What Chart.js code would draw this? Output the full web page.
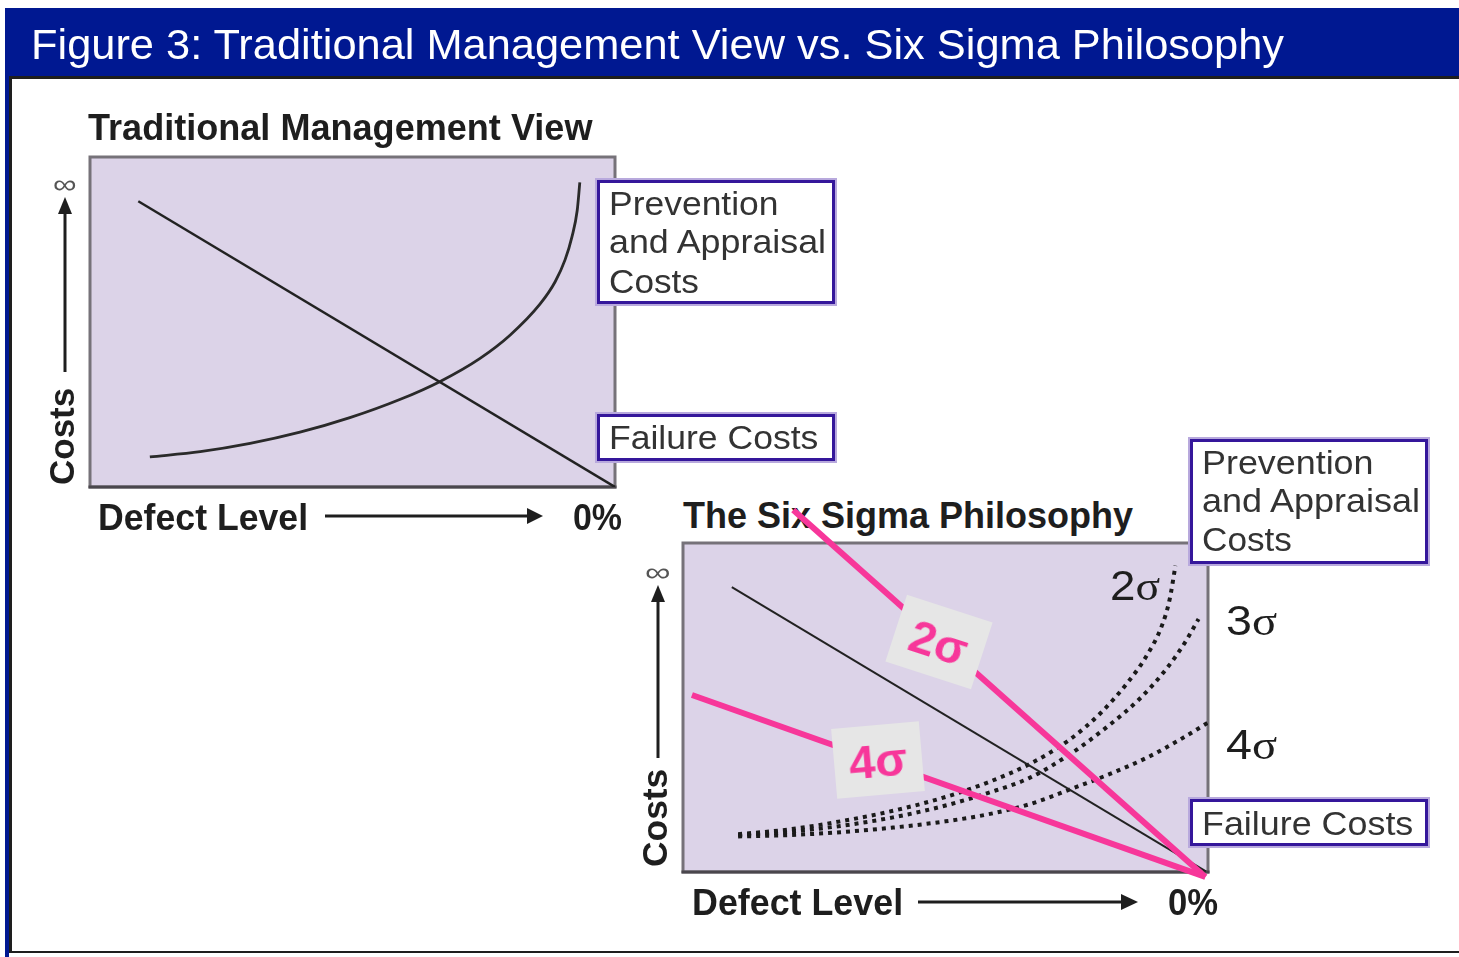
<!DOCTYPE html>
<html>
<head>
<meta charset="utf-8">
<script src="https://cdn.jsdelivr.net/npm/chart.js@4.4.1/dist/chart.umd.min.js"></script>
<style>
body{margin:0;width:1459px;height:957px;position:relative;overflow:hidden;background:#fff;font-family:"Liberation Sans",Arial,sans-serif;}
canvas{position:absolute;left:0;top:0;z-index:1;}
.abs{position:absolute;white-space:nowrap;z-index:2;}
#bar{position:absolute;left:5px;top:8px;width:1454px;height:68px;background:#001891;}
#strip{position:absolute;left:5px;top:8px;width:4px;height:949px;background:#001891;}
#panel{position:absolute;left:9px;top:76px;width:1450px;height:877px;border-left:3px solid #1e1e1e;border-top:3px solid #1e1e1e;border-bottom:2px solid #1e1e1e;box-sizing:border-box;}
.box{position:absolute;background:#fff;border:3px solid #35179b;box-shadow:0 0 0 2px #b8a9dd;box-sizing:border-box;z-index:2;}
.tag{position:absolute;background:#e6e6e6;z-index:3;display:flex;align-items:center;justify-content:center;
  color:#f7379a;font:bold 47px "Liberation Sans",Arial,sans-serif;line-height:1;}
.sig{font-family:"Liberation Serif","Times New Roman",serif;}
</style>
</head>
<body>
<div id="bar"></div>
<div id="strip"></div>
<div id="panel"></div>
<div class="box" style="left:597px;top:180px;width:238px;height:124px;"></div>
<div class="box" style="left:597px;top:414px;width:238px;height:47px;"></div>
<div class="box" style="left:1190px;top:439px;width:238px;height:125px;"></div>
<div class="box" style="left:1190px;top:799px;width:238px;height:47px;"></div>
<div class="tag" style="left:894px;top:607px;width:90px;height:70px;transform:rotate(18deg);">2σ</div>
<div class="tag" style="left:834px;top:725px;width:88px;height:70px;transform:rotate(-5deg);">4σ</div>
<canvas id="c1" width="1459" height="957"></canvas>
<canvas id="c2" width="1459" height="957"></canvas>
<script>
// traditional view (defect level axis runs towards 0% at the right)
const tradFailX = [9.2, 100];
const tradFailY = [86.6, 0];
const tradPrevX = [11.4, 21.0, 30.5, 40.0, 49.5, 59.0, 66.7, 74.3, 80.0, 85.7, 88.6, 90.5, 91.8, 92.8, 93.3];
const tradPrevY = [9.1, 10.7, 13.2, 16.6, 21.0, 26.5, 32.0, 39.0, 46.0, 55.4, 62.2, 68.9, 75.8, 83.8, 92.3];

// six sigma view
const ssFailX = [9.3, 99.6];
const ssFailY = [86.6, 0.2];
const sig2X = [10.5, 20, 30, 40, 50, 58, 66, 73.7, 79.6, 84.7, 88.3, 91.2, 92.7, 93.8];
const sig2Y = [11.5, 12.9, 15.4, 18.6, 22.8, 27.2, 32.8, 40.3, 48.4, 57.6, 65.7, 74.8, 82.9, 93.1];
const sig3X = [10.5, 20, 30, 40, 50, 58, 66, 73.7, 81.0, 86.9, 92.0, 95.6, 98.2];
const sig3Y = [11.2, 12.2, 14, 16.6, 20.2, 24, 28.6, 35.8, 44.4, 52.5, 61.6, 69.7, 76.9];
const sig4X = [10.5, 20, 30, 40, 50, 58, 66, 73.7, 81.0, 88.3, 94.2, 100];
const sig4Y = [10.8, 11.2, 12.1, 13.5, 15.4, 17.5, 20.6, 25.1, 29.6, 34.7, 39.8, 45.4];
const pink2X = [21, 99.5];
const pink2Y = [110, -1.5];
const pink4X = [1.7, 99.5];
const pink4Y = [53.8, -1.5];

const pts = (xs, ys) => xs.map((x, i) => ({x: x, y: ys[i]}));

const FONT = '"Liberation Sans", Arial, sans-serif';
function label(txt, x, base, size, o) {
    o = o || {};
    var d = document.createElement('div');
    d.className = 'abs';
    d.innerHTML = txt;
    d.style.font = (o.weight || 'normal') + ' ' + size + 'px ' + FONT;
    d.style.lineHeight = '1';
    d.style.color = o.color || '#1e1e1e';
    if (o.z !== undefined) d.style.zIndex = o.z;
    document.body.appendChild(d);
    var k = o.w ? o.w / d.offsetWidth : 1;
    d.style.transformOrigin = '0 0';
    if (o.rot) {
        d.style.left = (x - 0.8465 * size) + 'px';
        d.style.top = base + 'px';
        d.style.transform = 'rotate(-90deg) scaleX(' + k + ')';
    } else {
        d.style.left = x + 'px';
        d.style.top = (base - 0.8465 * size) + 'px';
        d.style.transform = 'scaleX(' + k + ')';
    }
}

label('Figure 3: Traditional Management View vs. Six Sigma Philosophy', 31, 59, 43, {color: '#fff', w: 1253});

label('Traditional Management View', 88, 140, 36, {weight: 'bold', w: 504});
label('Defect Level', 98, 530, 36, {weight: 'bold', w: 210});
label('0%', 573, 530, 36, {weight: 'bold', w: 49});
label('Costs', 74, 485, 35, {weight: 'bold', rot: true, w: 97});
label('∞', 53, 193, 26, {color: '#555', w: 24});
label('Prevention', 609, 215, 34, {color: '#333', w: 170});
label('and Appraisal', 609, 253, 34, {color: '#333', w: 217});
label('Costs', 609, 293, 34, {color: '#333', w: 90});
label('Failure Costs', 609, 449, 34, {color: '#333', w: 209});

label('The Six Sigma Philosophy', 683, 528, 36, {weight: 'bold', w: 450, z: 0});
label('Defect Level', 692, 915, 36, {weight: 'bold', w: 211});
label('0%', 1168, 915, 36, {weight: 'bold', w: 50});
label('Costs', 667, 867, 35, {weight: 'bold', rot: true, w: 98});
label('∞', 645, 581, 26, {color: '#555', w: 26});
label('Prevention', 1202, 474, 34, {color: '#333', w: 172});
label('and Appraisal', 1202, 512, 34, {color: '#333', w: 218});
label('Costs', 1202, 551, 34, {color: '#333', w: 90});
label('Failure Costs', 1202, 835, 34, {color: '#333', w: 211});
label('2<span class="sig">σ</span>', 1110, 600, 43, {w: 50});
label('3<span class="sig">σ</span>', 1226, 635, 43, {w: 51});
label('4<span class="sig">σ</span>', 1226, 759, 43, {w: 51});

function frame(arrows) {
    return {
        id: 'frame',
        beforeDatasetsDraw(chart) {
            const a = chart.chartArea, ctx = chart.ctx;
            ctx.save();
            ctx.fillStyle = '#dcd3e8';
            ctx.fillRect(a.left, a.top, a.right - a.left, a.bottom - a.top);
            ctx.lineWidth = 3;
            ctx.strokeStyle = '#767279';
            ctx.strokeRect(a.left, a.top, a.right - a.left, a.bottom - a.top);
            ctx.strokeStyle = '#4a474d';
            ctx.beginPath();
            ctx.moveTo(a.left - 1.5, a.bottom);
            ctx.lineTo(a.right + 1.5, a.bottom);
            ctx.stroke();
            ctx.restore();
        },
        afterDraw(chart) {
            const ctx = chart.ctx;
            ctx.save();
            ctx.strokeStyle = '#1e1e1e';
            ctx.fillStyle = '#1e1e1e';
            ctx.lineWidth = 3;
            // vertical arrow
            const v = arrows.v;
            ctx.beginPath();
            ctx.moveTo(v.x, v.y0);
            ctx.lineTo(v.x, v.y1);
            ctx.stroke();
            ctx.beginPath();
            ctx.moveTo(v.x, v.tip);
            ctx.lineTo(v.x - 7, v.y1 + 1);
            ctx.lineTo(v.x + 7, v.y1 + 1);
            ctx.closePath();
            ctx.fill();
            // horizontal arrow
            const h = arrows.h;
            ctx.beginPath();
            ctx.moveTo(h.x0, h.y);
            ctx.lineTo(h.x1, h.y);
            ctx.stroke();
            ctx.beginPath();
            ctx.moveTo(h.tip, h.y);
            ctx.lineTo(h.x1 - 1, h.y - 8);
            ctx.lineTo(h.x1 - 1, h.y + 8);
            ctx.closePath();
            ctx.fill();
            ctx.restore();
        }
    };
}

const hidden = {display: false};
function opts(pad) {
    return {
        responsive: false,
        animation: false,
        devicePixelRatio: 1,
        layout: {padding: pad},
        plugins: {legend: hidden, tooltip: {enabled: false}},
        elements: {point: {radius: 0}},
        scales: {
            x: {type: 'linear', min: 0, max: 100, display: false},
            y: {type: 'linear', min: 0, max: 100, display: false}
        }
    };
}

new Chart(document.getElementById('c1').getContext('2d'), {
    type: 'scatter',
    data: {
        datasets: [{
            data: pts(tradFailX, tradFailY),
            showLine: true, borderColor: '#222', borderWidth: 2.5
        }, {
            data: pts(tradPrevX, tradPrevY),
            showLine: true, borderColor: '#2a2a2a', borderWidth: 2.8,
            cubicInterpolationMode: 'monotone'
        }]
    },
    options: opts({left: 90, top: 157, right: 844, bottom: 470}),
    plugins: [frame({v: {x: 65, y0: 372, y1: 213, tip: 197}, h: {y: 516, x0: 325, x1: 528, tip: 543}})]
});

const dotted = {showLine: true, borderColor: '#1a1a1a', borderWidth: 4, borderDash: [4, 5],
    borderCapStyle: 'butt', cubicInterpolationMode: 'monotone'};
const pink = {showLine: true, borderColor: '#f7379a', borderWidth: 6, clip: false, borderCapStyle: 'butt'};

new Chart(document.getElementById('c2').getContext('2d'), {
    type: 'scatter',
    data: {
        datasets: [
            Object.assign({data: pts(pink2X, pink2Y)}, pink),
            Object.assign({data: pts(pink4X, pink4Y)}, pink),
            {data: pts(ssFailX, ssFailY), showLine: true, borderColor: '#222', borderWidth: 2},
            Object.assign({data: pts(sig2X, sig2Y)}, dotted),
            Object.assign({data: pts(sig3X, sig3Y)}, dotted),
            Object.assign({data: pts(sig4X, sig4Y)}, dotted)
        ]
    },
    options: opts({left: 683, top: 543, right: 251, bottom: 85}),
    plugins: [frame({v: {x: 658, y0: 758, y1: 601, tip: 585}, h: {y: 902, x0: 918, x1: 1122, tip: 1138}})]
});
</script>
</body>
</html>
